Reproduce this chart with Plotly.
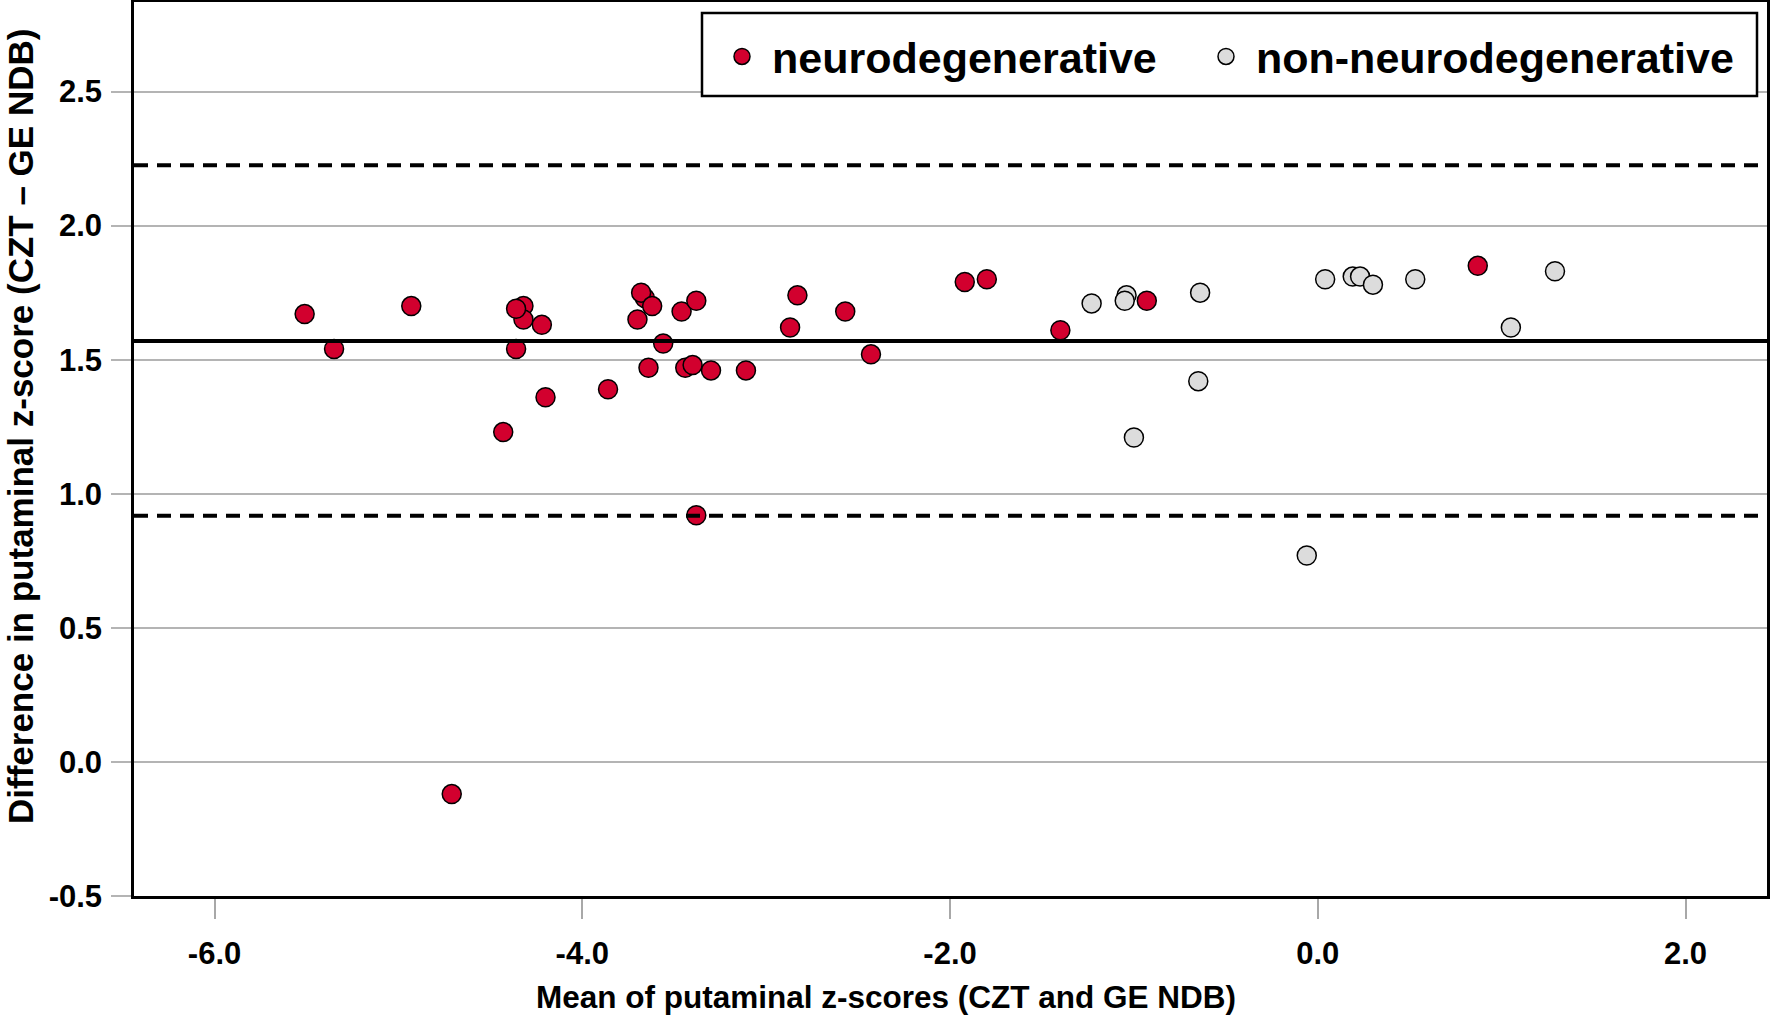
import plotly.graph_objects as go

# Data
neuro_x = [-5.51, -5.35, -4.93, -4.32, -4.32, -4.36, -4.22, -4.36, -4.20, -4.43, -3.86,
           -3.66, -3.68, -3.62, -3.70, -3.56, -3.64, -3.46, -3.38, -3.44, -3.40, -3.30,
           -3.11, -3.38, -2.83, -2.87, -2.57, -2.43, -1.92, -1.80, -1.40, -0.93, 0.87, -4.71]
neuro_y = [1.67, 1.54, 1.70, 1.70, 1.65, 1.69, 1.63, 1.54, 1.36, 1.23, 1.39,
           1.73, 1.75, 1.70, 1.65, 1.56, 1.47, 1.68, 1.72, 1.47, 1.48, 1.46,
           1.46, 0.92, 1.74, 1.62, 1.68, 1.52, 1.79, 1.80, 1.61, 1.72, 1.85, -0.12]

non_x = [-1.23, -1.04, -1.05, -0.64, -0.65, -1.00, -0.06, 0.04, 0.19, 0.23, 0.30, 0.53, 1.29, 1.05]
non_y = [1.71, 1.74, 1.72, 1.75, 1.42, 1.21, 0.77, 1.80, 1.81, 1.81, 1.78, 1.80, 1.83, 1.62]

mean_diff = 1.57
upper_loa = 2.225
lower_loa = 0.918

x_ticks = [-6.0, -4.0, -2.0, 0.0, 2.0]
x_tick_labels = ["-6.0", "-4.0", "-2.0", "0.0", "2.0"]
y_ticks = [-0.5, 0.0, 0.5, 1.0, 1.5, 2.0, 2.5]
y_tick_labels = ["-0.5", "0.0", "0.5", "1.0", "1.5", "2.0", "2.5"]

x_title = "Mean of putaminal z-scores (CZT and GE NDB)"
y_title = "Difference in putaminal z-score (CZT \u2013 GE NDB)"

RED = "#D2002E"
GREY = "#DCDCDC"
FONT = "Liberation Sans, Arial, sans-serif"

W, H = 1770, 1020
ML, MR, MT, MB = 134, 3, 2, 124
PW = W - ML - MR
PH = H - MT - MB


def px_x(p):
    return (p - ML) / PW


def px_y(p):
    return (H - MB - p) / PH


fig = go.Figure()
fig.add_trace(go.Scatter(
    x=neuro_x, y=neuro_y, mode="markers", name="neurodegenerative", legend="legend",
    marker=dict(size=19, color=RED, line=dict(color="black", width=1.5)),
))
fig.add_trace(go.Scatter(
    x=non_x, y=non_y, mode="markers", name="non-neurodegenerative", legend="legend2",
    marker=dict(size=19, color=GREY, line=dict(color="black", width=1.5)),
))

for yv, dash in [(upper_loa, "14px,9px"), (lower_loa, "14px,9px"), (mean_diff, "solid")]:
    fig.add_shape(type="line", xref="paper", x0=0, x1=1, yref="y", y0=yv, y1=yv,
                  line=dict(color="black", width=4, dash=dash), layer="above")

# legend frame
fig.add_shape(type="rect", xref="paper", yref="paper",
              x0=px_x(702), x1=px_x(1757), y0=px_y(96), y1=px_y(13),
              line=dict(color="black", width=2.5), fillcolor="white", layer="above")

fig.add_annotation(text=x_title, xref="paper", yref="paper",
                   x=px_x(886), y=px_y(997), xanchor="center", yanchor="middle",
                   showarrow=False, font=dict(family=FONT, size=31.5, weight="bold"))
fig.add_annotation(text=y_title, xref="paper", yref="paper", textangle=-90,
                   x=px_x(21), y=px_y(427), xanchor="center", yanchor="middle",
                   showarrow=False, font=dict(family=FONT, size=35, weight="bold"))

legend_common = dict(
    orientation="h", yanchor="top", xanchor="left",
    bgcolor="rgba(0,0,0,0)", borderwidth=0, itemwidth=50,
    font=dict(family=FONT, size=43, color="black", weight="bold"),
)

fig.update_layout(
    width=W, height=H, autosize=False,
    margin=dict(l=ML, r=MR, t=MT, b=MB, autoexpand=False),
    plot_bgcolor="white", paper_bgcolor="white",
    font=dict(family=FONT, size=31, color="black", weight="bold"),
    showlegend=True,
    legend=dict(x=px_x(712), y=px_y(22), **legend_common),
    legend2=dict(x=px_x(1196), y=px_y(22), **legend_common),
    xaxis=dict(
        range=[-6.438, 2.443], tickvals=x_ticks, ticktext=x_tick_labels,
        showgrid=False, zeroline=False, automargin=False,
        showline=True, mirror=True, linecolor="black", linewidth=2.5,
        ticks="outside", ticklen=20, tickwidth=2, tickcolor="#A8A8A8",
        ticklabelstandoff=8,
        tickfont=dict(family=FONT, size=31, weight="bold"),
    ),
    yaxis=dict(
        range=[-0.5, 2.834], tickvals=y_ticks, ticktext=y_tick_labels,
        showgrid=True, gridcolor="#B4B4B4", gridwidth=2, zeroline=False, automargin=False,
        showline=True, mirror=True, linecolor="black", linewidth=2.5,
        ticks="outside", ticklen=20, tickwidth=2, tickcolor="#B4B4B4",
        ticklabelstandoff=3,
        tickfont=dict(family=FONT, size=31, weight="bold"),
    ),
)

fig.write_html("out.html", config={"displayModeBar": False},
               post_script="document.body.style.margin='0px';")
